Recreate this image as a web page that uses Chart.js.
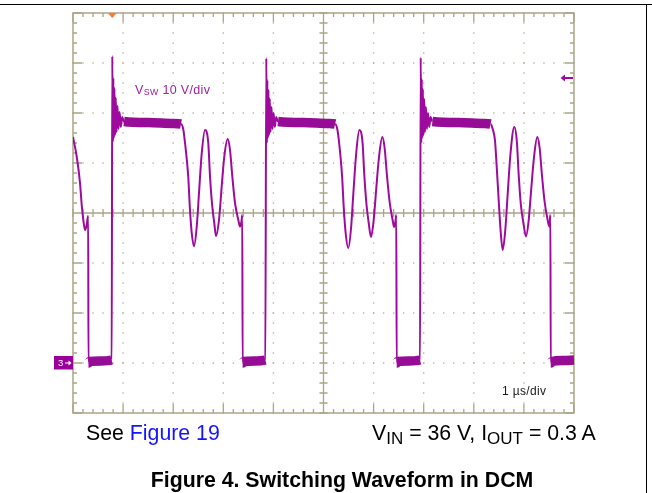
<!DOCTYPE html>
<html>
<head>
<meta charset="utf-8">
<script src="https://cdn.jsdelivr.net/npm/chart.js@4.4.1/dist/chart.umd.min.js"></script>
<style>
  html, body { margin: 0; padding: 0; background: #fff; }
  #wrap { position: relative; width: 652px; height: 493px; overflow: hidden; background: #fff; }
  #c { position: absolute; left: 0; top: 0; }
  .t { position: absolute; white-space: nowrap; line-height: 1; font-family: "Liberation Sans", Arial, sans-serif; }
  .sub { position: relative; }
  .rule { position: absolute; background: #000; }
</style>
</head>
<body>
<div id="wrap">
  <canvas id="c" width="652" height="493"></canvas>
  <div class="rule" style="left:0;top:4px;width:652px;height:1px;"></div>
  <div class="rule" style="left:646px;top:4px;width:1px;height:489px;"></div>

  <span class="t" style="left:135px;top:83.5px;font-size:12.5px;color:#a020a0;letter-spacing:0.35px;">V<span class="sub" style="font-size:8.8px;top:1.5px;">SW</span> 10 V/div</span>
  <span class="t" style="left:502px;top:385px;font-size:12px;color:#1a1a1a;letter-spacing:0.35px;">1 µs/div</span>
  <span class="t" style="left:58px;top:358px;font-size:9.5px;color:#fff;">3</span>

  <span class="t" style="left:86px;top:423px;font-size:21.3px;color:#000;">See <span style="color:#1414ff;">Figure 19</span></span>
  <span class="t" style="left:372px;top:423px;font-size:21.3px;color:#000;">V<span class="sub" style="font-size:17px;top:4px;">IN</span> = 36 V, I<span class="sub" style="font-size:17px;top:4px;">OUT</span> = 0.3 A</span>
  <div class="t" style="left:42px;top:469.5px;width:600px;text-align:center;font-size:21.3px;font-weight:bold;color:#000;">Figure 4. Switching Waveform in DCM</div>
</div>
<script>
// ---- Data read from the oscilloscope capture (1 µs/div, 10 V/div) ----
const timeUs = [
  0.000, 0.074, 0.140, 0.174, 0.206, 0.240, 0.273, 0.293, 0.303, 0.309, 0.330, 0.550, 0.772,
  0.784, 0.796, 0.806, 0.816, 0.828, 0.840, 0.854, 0.870, 0.888, 0.908, 0.930, 0.954, 0.982,
  1.018, 1.500, 2.000, 2.156,
  2.200, 2.236, 2.300, 2.335, 2.370, 2.415, 2.470, 2.515, 2.570, 2.635, 2.700, 2.735, 2.780,
  2.820, 2.854, 2.914, 2.968, 3.020, 3.088, 3.134, 3.180, 3.234, 3.300, 3.333, 3.367, 3.378,
  3.386, 3.410, 3.620, 3.838,
  3.858, 3.870, 3.880, 3.890, 3.902, 3.914, 3.928, 3.944, 3.962, 3.982, 4.004, 4.028, 4.056,
  4.092, 4.600, 5.100, 5.232,
  5.275, 5.310, 5.370, 5.405, 5.440, 5.495, 5.550, 5.595, 5.650, 5.715, 5.780, 5.815, 5.860,
  5.900, 5.948, 6.000, 6.054, 6.106, 6.174, 6.220, 6.266, 6.320, 6.380, 6.407, 6.440, 6.452,
  6.461, 6.480, 6.700, 6.926,
  6.940, 6.952, 6.962, 6.972, 6.984, 6.996, 7.010, 7.026, 7.044, 7.064, 7.086, 7.110, 7.138,
  7.174, 7.700, 8.200, 8.334,
  8.377, 8.423, 8.457, 8.500, 8.535, 8.577, 8.630, 8.675, 8.730, 8.808, 8.860, 8.895, 8.940,
  8.990, 9.042, 9.094, 9.148, 9.200, 9.267, 9.314, 9.360, 9.414, 9.474, 9.507, 9.520, 9.528,
  9.536, 9.560, 9.800, 10.000
];
const vswVolts = [
  45.2, 41.3, 36.0, 31.6, 28.6, 26.6, 27.6, 29.0, 29.4, 0.0, 0.3, 0.4, 0.6,
  61.4, 44.2, 57.0, 45.0, 55.0, 45.6, 53.0, 46.2, 51.4, 46.8, 50.2, 47.2, 49.2,
  48.3, 48.1, 47.9, 47.8,
  46.8, 44.0, 37.3, 30.6, 26.0, 23.3, 27.3, 34.0, 42.0, 46.6, 44.0, 37.3, 31.3,
  28.0, 25.4, 28.6, 35.3, 41.3, 44.8, 42.6, 37.3, 32.0, 28.6, 27.3, 28.6, 29.6,
  0.0, 0.3, 0.4, 0.6,
  61.0, 44.0, 56.6, 45.0, 54.6, 45.6, 52.8, 46.2, 51.2, 46.8, 50.0, 47.2, 49.2,
  48.3, 48.1, 47.9, 47.8,
  46.8, 44.2, 37.5, 31.0, 26.2, 23.0, 27.0, 33.8, 41.6, 46.6, 44.0, 37.5, 31.5,
  28.2, 25.2, 28.4, 35.0, 41.0, 45.2, 43.0, 37.6, 32.2, 28.6, 27.2, 28.6, 29.6,
  0.0, 0.3, 0.4, 0.6,
  61.1, 44.0, 56.8, 45.0, 54.8, 45.6, 52.8, 46.2, 51.2, 46.8, 50.0, 47.2, 49.2,
  48.3, 48.1, 47.9, 47.8,
  46.8, 44.5, 39.3, 32.0, 26.5, 22.6, 26.8, 33.6, 41.6, 47.2, 44.2, 37.8, 31.6,
  28.0, 25.3, 28.4, 35.0, 41.0, 45.2, 43.0, 37.6, 32.2, 28.6, 27.3, 28.6, 29.6,
  0.0, 0.3, 0.5, 0.6
];
const timeTicks = [0, 1, 2, 3, 4, 5, 6, 7, 8, 9, 10];        // 1 µs/div
const voltTicks = [-10, 0, 10, 20, 30, 40, 50, 60, 70];     // 10 V/div
const minorPerDiv = 5;
const triggerTimeUs = 0.782;
const triggerLevelV = 57;
const groundLevelV = 0;

const TRACE = '#9e0a9e';
const BAND = '#960c96';
const GRID = '#aaa587';

const points = timeUs.map((t, i) => ({ x: t, y: vswVolts[i] }));

function minorValues(ticks) {
  const out = [];
  for (let i = 0; i < ticks.length - 1; i++) {
    for (let k = 0; k < minorPerDiv; k++) out.push(ticks[i] + (ticks[i + 1] - ticks[i]) * k / minorPerDiv);
  }
  out.push(ticks[ticks.length - 1]);
  return out;
}

function isFlat(ctx) {
  const a = ctx.p0.parsed, b = ctx.p1.parsed;
  return Math.abs(a.y - b.y) < 0.8 && (b.x - a.x) > 0.015;
}

const graticule = {
  id: 'graticule',
  beforeDatasetsDraw(chart) {
    const { ctx, chartArea: a } = chart;
    const xs = chart.scales.x, ys = chart.scales.y;
    const xMin = minorValues(timeTicks), yMin = minorValues(voltTicks);
    const xc = xs.getPixelForValue(timeTicks[5]);
    const yc = ys.getPixelForValue(voltTicks[4]);
    ctx.save();
    ctx.fillStyle = '#b9b49a';
    timeTicks.slice(1, -1).forEach((t, i) => {
      if (i + 1 === 5) return;
      const px = xs.getPixelForValue(t);
      yMin.forEach(v => { const py = ys.getPixelForValue(v); ctx.fillRect(px - 0.7, py - 0.7, 1.4, 1.4); });
    });
    voltTicks.slice(1, -1).forEach((v, i) => {
      if (i + 1 === 4) return;
      const py = ys.getPixelForValue(v);
      xMin.forEach(t => { const px = xs.getPixelForValue(t); ctx.fillRect(px - 0.7, py - 0.7, 1.4, 1.4); });
    });
    ctx.strokeStyle = GRID;
    ctx.lineWidth = 1.3;
    ctx.beginPath();
    ctx.moveTo(a.left, yc); ctx.lineTo(a.right, yc);
    ctx.moveTo(xc, a.top); ctx.lineTo(xc, a.bottom);
    xMin.forEach((t, i) => {
      const px = xs.getPixelForValue(t);
      const len = (i % minorPerDiv === 0) ? 9 : 4;
      ctx.moveTo(px, a.top); ctx.lineTo(px, a.top + len);
      ctx.moveTo(px, a.bottom); ctx.lineTo(px, a.bottom - len);
      ctx.moveTo(px, yc - 4); ctx.lineTo(px, yc + 4);
    });
    yMin.forEach((v, i) => {
      const py = ys.getPixelForValue(v);
      const len = (i % minorPerDiv === 0) ? 9 : 4;
      ctx.moveTo(a.left, py); ctx.lineTo(a.left + len, py);
      ctx.moveTo(a.right, py); ctx.lineTo(a.right - len, py);
      ctx.moveTo(xc - 4, py); ctx.lineTo(xc + 4, py);
    });
    ctx.stroke();
    ctx.lineWidth = 1.5;
    ctx.strokeRect(a.left, a.top, a.right - a.left, a.bottom - a.top);
    ctx.restore();
  },
  afterDatasetsDraw(chart) {
    const { ctx, chartArea: a } = chart;
    const xs = chart.scales.x, ys = chart.scales.y;
    ctx.save();
    const tx = xs.getPixelForValue(triggerTimeUs);
    ctx.fillStyle = '#ff7a2e';
    ctx.beginPath();
    ctx.moveTo(tx - 4.5, a.top); ctx.lineTo(tx + 4.5, a.top); ctx.lineTo(tx, a.top + 5); ctx.closePath();
    ctx.fill();
    const ty = ys.getPixelForValue(triggerLevelV);
    ctx.strokeStyle = TRACE; ctx.fillStyle = TRACE; ctx.lineWidth = 2;
    ctx.beginPath(); ctx.moveTo(a.right - 1, ty); ctx.lineTo(a.right - 11, ty); ctx.stroke();
    ctx.beginPath(); ctx.moveTo(a.right - 13.5, ty); ctx.lineTo(a.right - 9, ty - 3.5); ctx.lineTo(a.right - 9, ty + 3.5); ctx.closePath(); ctx.fill();
    const gy = ys.getPixelForValue(groundLevelV);
    ctx.fillStyle = '#990099';
    ctx.fillRect(a.left - 19, gy - 7, 19, 13.5);
    ctx.strokeStyle = '#fff'; ctx.fillStyle = '#fff'; ctx.lineWidth = 1;
    ctx.beginPath(); ctx.moveTo(a.left - 8, gy); ctx.lineTo(a.left - 2.5, gy); ctx.stroke();
    ctx.beginPath(); ctx.moveTo(a.left - 1.5, gy); ctx.lineTo(a.left - 4.5, gy - 2.5); ctx.lineTo(a.left - 4.5, gy + 2.5); ctx.closePath(); ctx.fill();
    ctx.restore();
  }
};

new Chart(document.getElementById('c'), {
  type: 'line',
  data: {
    datasets: [{
      label: 'VSW',
      data: points,
      borderColor: TRACE,
      borderWidth: 2,
      pointRadius: 0,
      cubicInterpolationMode: 'monotone',
      fill: false,
      segment: {
        borderWidth: ctx => isFlat(ctx) ? 9.5 : 2,
        borderColor: ctx => isFlat(ctx) ? BAND : TRACE
      }
    }]
  },
  options: {
    responsive: false,
    animation: false,
    devicePixelRatio: 1,
    layout: { padding: { left: 73, right: 78, top: 13, bottom: 80 } },
    plugins: { legend: { display: false }, tooltip: { enabled: false }, title: { display: false } },
    scales: {
      x: { type: 'linear', min: 0, max: 10, display: false },
      y: { type: 'linear', min: -10, max: 70, display: false }
    }
  },
  plugins: [graticule]
});
</script>
</body>
</html>
